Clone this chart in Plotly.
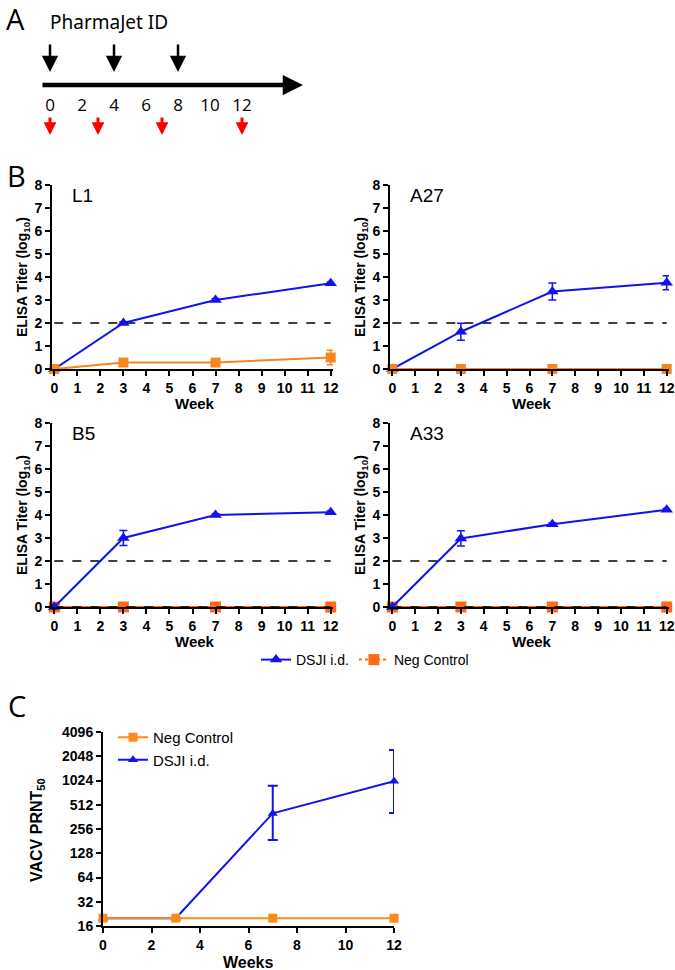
import plotly.graph_objects as go

# ---------------- data ----------------
weeks = [0, 3, 7, 12]

l1_dsji = [0, 2.0, 3.0, 3.73]
l1_dsji_err = [0, 0.05, 0.05, 0.05]
l1_neg = [0, 0.28, 0.28, 0.5]
l1_neg_err = [0, 0.15, 0.15, 0.32]

a27_dsji = [0, 1.62, 3.37, 3.75]
a27_dsji_err = [0, 0.37, 0.37, 0.3]
a27_neg = [0, 0, 0, 0]

b5_dsji = [0, 3.0, 4.0, 4.12]
b5_dsji_err = [0, 0.33, 0.05, 0.05]
b5_neg = [0, 0, 0, 0]

a33_dsji = [0, 2.98, 3.6, 4.23]
a33_dsji_err = [0, 0.33, 0.05, 0.05]
a33_neg = [0, 0, 0, 0]

threshold = 2

prnt_weeks = [0, 3, 7, 12]
prnt_neg = [20, 20, 20, 20]
prnt_dsji = [20, 20, 400, 1000]
prnt_dsji_hi = [20, 20, 880, 2450]
prnt_dsji_lo = [20, 20, 187, 405]
prnt_ticks = [16, 32, 64, 128, 256, 512, 1024, 2048, 4096]

timeline_labels = [0, 2, 4, 6, 8, 10, 12]
vaccination_weeks = [0, 4, 8]
bleed_weeks = [0, 3, 7, 12]

# ---------------- styles ----------------
W, H = 675, 970
BLUE = "#1212EE"
ORANGE_TOP = "#F8861E"
ORANGE_BOT = "#FF6A12"
ORANGE_C = "#FF8A1C"
FONT = "Liberation Sans"
FONT_A = "Open Sans"


def px_x(a, b):
    return [a / W, b / W]


def px_y(top, bottom):
    return [1 - bottom / H, 1 - top / H]


fig = go.Figure()

panels = [
    ("L1", "x", "y", l1_dsji, l1_dsji_err, l1_neg, l1_neg_err, ORANGE_TOP, False),
    ("A27", "x2", "y2", a27_dsji, a27_dsji_err, a27_neg, None, ORANGE_TOP, False),
    ("B5", "x3", "y3", b5_dsji, b5_dsji_err, b5_neg, None, ORANGE_BOT, True),
    ("A33", "x4", "y4", a33_dsji, a33_dsji_err, a33_neg, None, ORANGE_BOT, True),
]

for name, xa, ya, dsji, dsji_err, neg, neg_err, ocol, zero_dash in panels:
    fig.add_trace(go.Scatter(x=[0, 12], y=[threshold, threshold], mode="lines",
                             line=dict(color="black", width=1.6, dash="dash"),
                             xaxis=xa, yaxis=ya, showlegend=False, hoverinfo="skip"))
    blue_tr = go.Scatter(
        x=weeks, y=dsji, mode="lines+markers",
        line=dict(color=BLUE, width=2),
        marker=dict(symbol="triangle-up", size=11, color=BLUE),
        error_y=dict(type="data", array=dsji_err, color=BLUE, thickness=1.5, width=4),
        xaxis=xa, yaxis=ya, showlegend=False, cliponaxis=False)
    orange_tr = go.Scatter(
        x=weeks, y=neg, mode="lines+markers",
        line=dict(color=ocol, width=2),
        marker=dict(symbol="square", size=11 if zero_dash else 10, color=ocol),
        error_y=dict(type="data", array=neg_err if neg_err else [0] * 4,
                     color=ocol, thickness=1.5, width=4, visible=bool(neg_err)),
        xaxis=xa, yaxis=ya, showlegend=False, cliponaxis=False)
    if zero_dash:
        fig.add_trace(orange_tr)
        fig.add_trace(go.Scatter(x=[0, 12], y=[0, 0], mode="lines",
                                 line=dict(color="black", width=1.6, dash="dash"),
                                 xaxis=xa, yaxis=ya, showlegend=False,
                                 hoverinfo="skip", cliponaxis=False))
        fig.add_trace(blue_tr)
    else:
        fig.add_trace(blue_tr)
        fig.add_trace(orange_tr)

# legend entries for panel B
fig.add_trace(go.Scatter(x=[None], y=[None], mode="lines+markers", name="DSJI i.d.",
                         line=dict(color=BLUE, width=2),
                         marker=dict(symbol="triangle-up", size=11, color=BLUE),
                         xaxis="x3", yaxis="y3", legend="legend"))
fig.add_trace(go.Scatter(x=[None], y=[None], mode="lines+markers", name="Neg Control",
                         line=dict(color=ORANGE_BOT, width=2, dash="dot"),
                         marker=dict(symbol="square", size=11, color=ORANGE_BOT),
                         xaxis="x3", yaxis="y3", legend="legend"))

# panel C
fig.add_trace(go.Scatter(
    x=prnt_weeks, y=prnt_dsji, mode="lines+markers", name="DSJI i.d.",
    line=dict(color=BLUE, width=2),
    marker=dict(symbol="triangle-up", size=9, color=BLUE),
    error_y=dict(type="data", symmetric=False,
                 array=[h - v for h, v in zip(prnt_dsji_hi, prnt_dsji)],
                 arrayminus=[v - l for v, l in zip(prnt_dsji, prnt_dsji_lo)],
                 color=BLUE, thickness=2, width=5),
    xaxis="x6", yaxis="y6", legend="legend2", legendrank=2, cliponaxis=False))
fig.add_trace(go.Scatter(
    x=prnt_weeks, y=prnt_neg, mode="lines+markers", name="Neg Control",
    line=dict(color=ORANGE_C, width=2),
    marker=dict(symbol="square", size=9, color=ORANGE_C),
    xaxis="x6", yaxis="y6", legend="legend2", legendrank=1, cliponaxis=False))

# panel A timeline: tick labels and heading
fig.add_trace(go.Scatter(x=timeline_labels, y=[107] * len(timeline_labels), mode="text",
                         text=[str(v) for v in timeline_labels],
                         textfont=dict(family=FONT_A, size=17, color="black"),
                         xaxis="x5", yaxis="y5", showlegend=False, hoverinfo="skip",
                         cliponaxis=False))
fig.add_trace(go.Scatter(x=[vaccination_weeks[0]], y=[24], mode="text",
                         text=["PharmaJet ID"], textposition="middle right",
                         textfont=dict(family="Noto Sans", size=19, color="black"),
                         xaxis="x5", yaxis="y5", showlegend=False, hoverinfo="skip",
                         cliponaxis=False))

tick_font = dict(family=FONT, size=14, color="black", weight="bold")


def b_xaxis(dom):
    return dict(domain=dom, range=[-0.1, 12.1], tickmode="array", tickvals=list(range(13)),
                ticks="outside", ticklen=5, tickwidth=2, tickcolor="black",
                showline=True, linecolor="black", linewidth=2, showgrid=False,
                zeroline=False, tickfont=tick_font, fixedrange=True, automargin=False,
                ticklabeloverflow="allow")


def b_yaxis(dom, anchor):
    return dict(domain=dom, range=[0, 8], tickvals=list(range(9)), anchor=anchor,
                ticks="outside", ticklen=5, tickwidth=2, tickcolor="black",
                showline=True, linecolor="black", linewidth=2, showgrid=False,
                zeroline=False, tickfont=tick_font, fixedrange=True, automargin=False)


LX = px_x(52, 333)
RX = px_x(390, 669)
TY = px_y(185, 369)
BY = px_y(423, 607)

fig.update_layout(
    template="none",
    width=W, height=H, margin=dict(l=0, r=0, t=0, b=0, pad=0, autoexpand=False),
    paper_bgcolor="white", plot_bgcolor="white",
    font=dict(family=FONT, color="black"),
    xaxis=dict(b_xaxis(LX), anchor="y"),
    yaxis=b_yaxis(TY, "x"),
    xaxis2=dict(b_xaxis(RX), anchor="y2"),
    yaxis2=b_yaxis(TY, "x2"),
    xaxis3=dict(b_xaxis(LX), anchor="y3"),
    yaxis3=b_yaxis(BY, "x3"),
    xaxis4=dict(b_xaxis(RX), anchor="y4"),
    yaxis4=b_yaxis(BY, "x4"),
    xaxis5=dict(domain=px_x(41, 303), range=[-0.5625, 15.8125], visible=False,
                anchor="y5", fixedrange=True, automargin=False),
    yaxis5=dict(domain=px_y(0, 160), range=[160, 0], visible=False, anchor="x5",
                fixedrange=True, automargin=False),
    xaxis6=dict(domain=px_x(103, 394), range=[0, 12], tickvals=[0, 2, 4, 6, 8, 10, 12],
                anchor="y6", ticks="outside", ticklen=5, tickwidth=2, tickcolor="black",
                showline=True, linecolor="black", linewidth=2, showgrid=False,
                zeroline=False, tickfont=tick_font, fixedrange=True, automargin=False),
    yaxis6=dict(domain=px_y(732, 926), type="log", range=[1.20412, 3.61236],
                tickvals=prnt_ticks, ticktext=[str(v) for v in prnt_ticks],
                anchor="x6", ticks="outside", ticklen=5, tickwidth=2, tickcolor="black",
                showline=True, linecolor="black", linewidth=2, showgrid=False,
                zeroline=False, tickfont=tick_font, fixedrange=True, automargin=False),
    legend=dict(orientation="h", x=365 / W, xanchor="center", y=1 - 660 / H,
                yanchor="middle", font=dict(family=FONT, size=14, color="black"),
                itemwidth=30, bgcolor="rgba(0,0,0,0)"),
    legend2=dict(x=113 / W, xanchor="left", y=1 - 721 / H, yanchor="top",
                 font=dict(family=FONT, size=15, color="black"),
                 itemwidth=30, bgcolor="rgba(0,0,0,0)", tracegroupgap=0,
                 traceorder="normal"),
)

ann = []
for letter, xpx, ypx in [("A", 15, 18), ("B", 16, 175), ("C", 17, 705)]:
    ann.append(dict(text=letter, x=xpx / W, y=1 - ypx / H, xref="paper", yref="paper",
                    showarrow=False, font=dict(family=FONT_A, size=29, color="black"),
                    xanchor="center", yanchor="middle"))
# timeline main arrow
ann.append(dict(x=15.8125, y=85, ax=-0.5625, ay=85, xref="x5", yref="y5", axref="x5",
                ayref="y5", showarrow=True, arrowhead=2, arrowsize=0.9, arrowwidth=4.5,
                arrowcolor="black", text="", standoff=0))
for w in vaccination_weeks:
    ann.append(dict(x=w, y=72, ax=w, ay=43, xref="x5", yref="y5", axref="x5", ayref="y5",
                    showarrow=True, arrowhead=2, arrowsize=1.3, arrowwidth=2.5,
                    arrowcolor="black", text="", standoff=0))
for w in bleed_weeks:
    ann.append(dict(x=w, y=135, ax=w, ay=116, xref="x5", yref="y5", axref="x5", ayref="y5",
                    showarrow=True, arrowhead=2, arrowsize=0.85, arrowwidth=3,
                    arrowcolor="#FF0000", text="", standoff=0))

for name, xa_dom, ya_dom in [("L1", LX, TY), ("A27", RX, TY), ("B5", LX, BY), ("A33", RX, BY)]:
    x0 = xa_dom[0] * W
    ytop = (1 - ya_dom[1]) * H
    ybot = (1 - ya_dom[0]) * H
    ann.append(dict(text=name, x=(x0 + 18) / W, y=1 - (ytop + 11) / H, xref="paper",
                    yref="paper", showarrow=False, xanchor="left", yanchor="middle",
                    font=dict(family=FONT, size=19, color="black")))
    ann.append(dict(text="ELISA Titer (log<sub>10</sub>)", x=(x0 - 29) / W,
                    y=1 - ((ytop + ybot) / 2) / H, xref="paper", yref="paper",
                    showarrow=False, textangle=-90, xanchor="center", yanchor="middle",
                    font=dict(family=FONT, size=14, color="black", weight="bold")))
    ann.append(dict(text="Week", x=(x0 + 2 + (xa_dom[1] - xa_dom[0]) * W / 2) / W,
                    y=1 - (ybot + 34) / H, xref="paper", yref="paper",
                    showarrow=False, xanchor="center", yanchor="middle",
                    font=dict(family=FONT, size=15, color="black", weight="bold")))

ann.append(dict(text="VACV PRNT<sub>50</sub>", x=37 / W, y=1 - 830 / H, xref="paper",
                yref="paper", showarrow=False, textangle=-90, xanchor="center",
                yanchor="middle", font=dict(family=FONT, size=16, color="black", weight="bold")))
ann.append(dict(text="Weeks", x=248 / W, y=1 - 962 / H, xref="paper", yref="paper",
                showarrow=False, xanchor="center", yanchor="middle",
                font=dict(family=FONT, size=16, color="black", weight="bold")))

fig.update_layout(annotations=ann)

fig.write_html(
    "out.html",
    config={"displayModeBar": False},
    post_script="document.body.style.margin='0';document.body.style.padding='0';",
)
